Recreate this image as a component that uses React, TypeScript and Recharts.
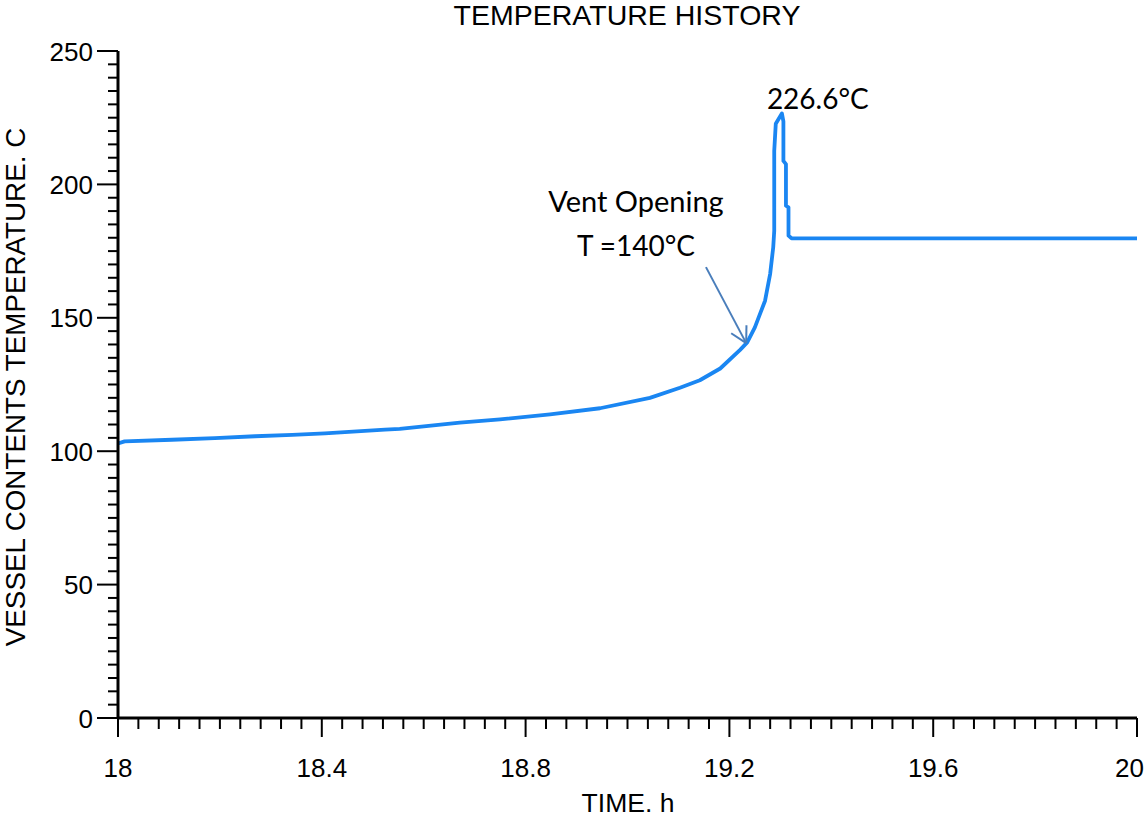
import React from 'react';
import {
  LineChart,
  Line,
  XAxis,
  YAxis,
  ReferenceDot,
  ReferenceLine,
  Customized,
} from 'recharts';

// Simulated vessel contents temperature history (time in h, temperature in °C)
const TIME_H = [
  18.0, 18.013, 18.106, 18.19, 18.269, 18.342, 18.406, 18.524, 18.553, 18.671,
  18.75, 18.848, 18.946, 19.044, 19.103, 19.142, 19.182, 19.221, 19.235, 19.25,
  19.27, 19.28, 19.286, 19.288, 19.288, 19.291, 19.303, 19.306, 19.306, 19.311,
  19.311, 19.316, 19.316, 19.322, 20.0,
];
const TEMP_C = [
  102.9, 103.7, 104.3, 104.9, 105.6, 106.1, 106.7, 108.1, 108.4, 110.7,
  111.9, 113.8, 116.1, 120.0, 123.8, 126.6, 131.0, 138.0, 140.8, 146.4,
  156.4, 166.5, 176.4, 182.6, 212.6, 222.7, 226.6, 223.6, 208.8, 207.6,
  192.0, 191.4, 180.8, 179.8, 179.8,
];

const X_MAJOR = [18, 18.4, 18.8, 19.2, 19.6, 20];
const Y_MAJOR = [0, 50, 100, 150, 200, 250];
const X_MINOR_STEP = 0.04;
const Y_MINOR_STEP = 5;

// Peak and vent-opening annotations
const PEAK = { t: 19.303, temp: 226.6, label: '226.6°C' };
const VENT_ARROW = { tailT: 19.154, tailTemp: 169, tipT: 19.233, tipTemp: 140.5 };
const VENT_LINES = ['Vent Opening', 'T =140°C'];

const TITLE = 'TEMPERATURE HISTORY';
const X_TITLE = 'TIME. h';
const Y_TITLE = 'VESSEL CONTENTS TEMPERATURE. C';

const data = TIME_H.map((t, i) => ({ t, temp: TEMP_C[i] }));

const X_TICKS: number[] = [];
for (let i = 0; i <= Math.round((20 - 18) / X_MINOR_STEP); i++) {
  X_TICKS.push(Math.round((18 + i * X_MINOR_STEP) * 100) / 100);
}
const Y_TICKS: number[] = [];
for (let i = 0; i <= 250 / Y_MINOR_STEP; i++) Y_TICKS.push(i * Y_MINOR_STEP);

const isMajor = (list: number[], v: number) => list.some((m) => Math.abs(m - v) < 1e-6);

const CHART_W = 1145;
const AXIS_FONT = '"Liberation Sans", Arial, sans-serif';
const NOTE_FONT = 'Lato, "Open Sans", sans-serif';
const LINE_BLUE = '#1a86f2';
const ARROW_BLUE = '#4a7ebb';

const XTick = (props: any) => {
  const { x, y, payload } = props;
  const major = isMajor(X_MAJOR, payload.value);
  // keep the last label inside the drawing area
  const atEdge = x > CHART_W - 20;
  return (
    <g>
      <line x1={x} y1={y} x2={x} y2={y + (major ? 19 : 11)} stroke="#000" strokeWidth={2} />
      {major && (
        <text
          x={atEdge ? CHART_W - 1 : x}
          y={y + 59}
          textAnchor={atEdge ? 'end' : 'middle'}
          fontSize={26}
          fontFamily={AXIS_FONT}
          fill="#000"
        >
          {String(payload.value)}
        </text>
      )}
    </g>
  );
};

const YTick = (props: any) => {
  const { x, y, payload } = props;
  const major = isMajor(Y_MAJOR, payload.value);
  return (
    <g>
      <line x1={x} y1={y} x2={x - (major ? 21 : 10)} y2={y} stroke="#000" strokeWidth={2} />
      {major && (
        <text x={x - 25} y={y + 9.5} textAnchor="end" fontSize={26} fontFamily={AXIS_FONT} fill="#000">
          {String(payload.value)}
        </text>
      )}
    </g>
  );
};

const Titles = () => (
  <g fontFamily={AXIS_FONT} fill="#000">
    <text x={627} y={25} textAnchor="middle" fontSize={28.5}>
      {TITLE}
    </text>
    <text x={628} y={812} textAnchor="middle" fontSize={26.5}>
      {X_TITLE}
    </text>
    <text x={25} y={387} textAnchor="middle" fontSize={27.8} transform="rotate(-90 25 387)">
      {Y_TITLE}
    </text>
  </g>
);

const PeakLabel = (props: any) => {
  const { cx, cy } = props;
  return (
    <text x={cx - 15} y={cy - 4} fontSize={28} fontFamily={NOTE_FONT} fill="#000">
      {PEAK.label}
    </text>
  );
};

const VentArrow = (props: any) => {
  const { x1, y1, x2, y2 } = props;
  const ang = Math.atan2(y2 - y1, x2 - x1);
  const len = 18;
  const spread = 0.5;
  const b1x = x2 - len * Math.cos(ang - spread);
  const b1y = y2 - len * Math.sin(ang - spread);
  const b2x = x2 - len * Math.cos(ang + spread);
  const b2y = y2 - len * Math.sin(ang + spread);
  return (
    <g>
      <line x1={x1} y1={y1} x2={x2} y2={y2} stroke={ARROW_BLUE} strokeWidth={2} />
      <line x1={x2} y1={y2} x2={b1x} y2={b1y} stroke={ARROW_BLUE} strokeWidth={2} />
      <line x1={x2} y1={y2} x2={b2x} y2={b2y} stroke={ARROW_BLUE} strokeWidth={2} />
      <text x={x1 - 70} y={y1 - 55} textAnchor="middle" fontSize={29} fontFamily={NOTE_FONT} fill="#000">
        {VENT_LINES[0]}
      </text>
      <text x={x1 - 70} y={y1 - 11} textAnchor="middle" fontSize={28} fontFamily={NOTE_FONT} fill="#000">
        {VENT_LINES[1]}
      </text>
    </g>
  );
};

export default function App() {
  return (
    <div style={{ position: 'absolute', left: 0, top: 0, width: 1145, height: 819, background: '#fff' }}>
      <LineChart
        width={CHART_W}
        height={819}
        data={data}
        margin={{ top: 51, right: 8, bottom: 41, left: 18 }}
      >
        <XAxis
          dataKey="t"
          type="number"
          domain={[18, 20]}
          ticks={X_TICKS}
          interval={0}
          tickSize={0}
          tickMargin={0}
          tickLine={false}
          tick={<XTick />}
          axisLine={{ stroke: '#000', strokeWidth: 3 }}
          height={60}
          allowDataOverflow
        />
        <YAxis
          type="number"
          domain={[0, 250]}
          ticks={Y_TICKS}
          interval={0}
          tickSize={0}
          tickMargin={0}
          tickLine={false}
          tick={<YTick />}
          axisLine={{ stroke: '#000', strokeWidth: 3 }}
          width={100}
          allowDataOverflow
        />
        <Line
          dataKey="temp"
          type="linear"
          stroke={LINE_BLUE}
          strokeWidth={3.8}
          dot={false}
          activeDot={false}
          isAnimationActive={false}
          strokeLinejoin="round"
        />
        <ReferenceLine
          segment={[
            { x: VENT_ARROW.tailT, y: VENT_ARROW.tailTemp },
            { x: VENT_ARROW.tipT, y: VENT_ARROW.tipTemp },
          ]}
          shape={<VentArrow />}
          ifOverflow="visible"
        />
        <ReferenceDot x={PEAK.t} y={PEAK.temp} r={0} shape={<PeakLabel />} ifOverflow="visible" />
        <Customized component={<Titles />} />
      </LineChart>
    </div>
  );
}
